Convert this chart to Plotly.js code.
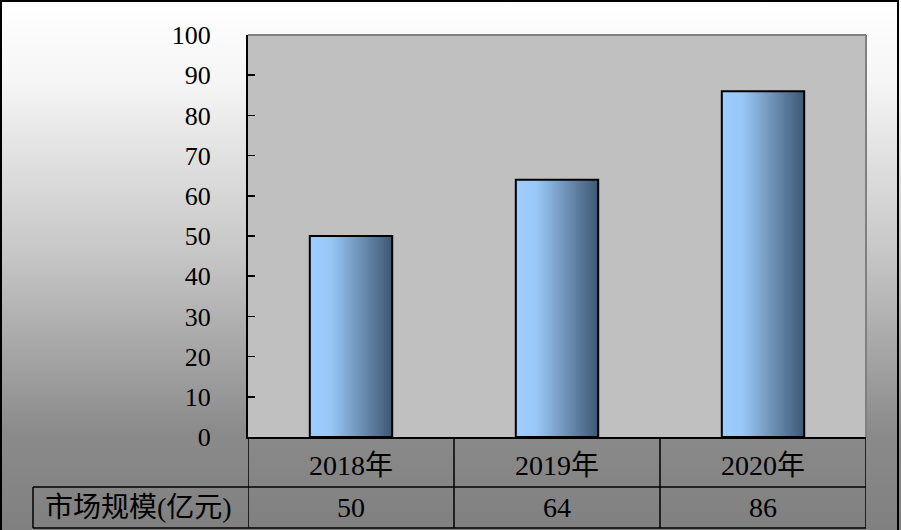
<!DOCTYPE html>
<html>
<head>
<meta charset="utf-8">
<script src="https://cdn.plot.ly/plotly-3.0.1.min.js"></script>
<style>
  html, body { margin: 0; padding: 0; }
  #wrap { position: relative; width: 901px; height: 530px;
    background: linear-gradient(to bottom, #ffffff 0%, #f6f6f6 15%, #c6c6c6 48%, #8a8a8a 82%, #808080 100%); }
  #chart { position: absolute; left: 0; top: 0; width: 901px; height: 530px; }
  #frame { position: absolute; left: 0; top: 0; width: 899px; height: 530px;
    border-left: 2px solid #000; border-top: 2px solid #000; border-right: 2px solid #000;
    box-sizing: border-box; pointer-events: none; }
</style>
</head>
<body>
<div id="wrap"><div id="chart"></div><div id="frame"></div></div>
<script>
const categories = ["2018年", "2019年", "2020年"];
const values = [50, 64, 86];
const seriesName = "市场规模(亿元)";
const yTicks = [0, 10, 20, 30, 40, 50, 60, 70, 80, 90, 100];

const serif = '"Liberation Serif", "Times New Roman", "Noto Sans CJK SC", serif';

const trace = {
  type: "bar",
  x: categories,
  y: values,
  name: seriesName,
  marker: { color: "#99ccff", line: { color: "#000000", width: 2 } },
  hoverinfo: "none"
};

const shapes = [];
shapes.push({ type: "line", xref: "paper", yref: "paper", x0: 0, x1: 1, y0: 1, y1: 1, line: { color: "#808080", width: 2 } });
shapes.push({ type: "line", xref: "paper", yref: "paper", x0: 1, x1: 1, y0: 0, y1: 1, line: { color: "#808080", width: 2 } });
for (let i = 0; i <= categories.length; i++) {
  shapes.push({ type: "line", xref: "x", yref: "paper", ysizemode: "pixel", yanchor: 0,
    x0: i - 0.5, x1: i - 0.5, y0: 0, y1: -91, line: { color: "#000", width: 1.5 } });
}
shapes.push({ type: "line", xref: "paper", yref: "paper", xsizemode: "pixel", xanchor: 0, ysizemode: "pixel", yanchor: 0,
  x0: -215, x1: 618, y0: -50, y1: -50, line: { color: "#000", width: 1.5 } });
shapes.push({ type: "line", xref: "paper", yref: "paper", xsizemode: "pixel", xanchor: 0, ysizemode: "pixel", yanchor: 0,
  x0: -215, x1: 618, y0: -91, y1: -91, line: { color: "#000", width: 1.5 } });
shapes.push({ type: "line", xref: "paper", yref: "paper", xsizemode: "pixel", xanchor: 0, ysizemode: "pixel", yanchor: 0,
  x0: -215, x1: -215, y0: -50, y1: -91, line: { color: "#000", width: 1.5 } });

const annotations = [];
values.forEach((v, i) => {
  annotations.push({ xref: "x", yref: "paper", x: categories[i], y: 0, yshift: -70,
    yanchor: "middle", xanchor: "center", showarrow: false, text: String(v),
    font: { family: serif, size: 28, color: "#000" } });
});
annotations.push({ xref: "paper", yref: "paper", x: 0, xshift: -110, y: 0, yshift: -70,
  yanchor: "middle", xanchor: "center", showarrow: false, text: seriesName,
  font: { family: serif, size: 28, color: "#000" } });

const layout = {
  width: 901, height: 530,
  margin: { l: 248, r: 35, t: 35, b: 93, pad: 0 },
  paper_bgcolor: "rgba(0,0,0,0)",
  plot_bgcolor: "#c0c0c0",
  showlegend: false,
  bargap: 0.6,
  xaxis: {
    type: "category",
    showgrid: false, zeroline: false,
    showline: true, linecolor: "#000", linewidth: 2,
    ticks: "", ticklabelstandoff: 2,
    tickfont: { family: serif, size: 28, color: "#000" },
    range: [-0.5, 2.5]
  },
  yaxis: {
    range: [0, 100], tickvals: yTicks,
    showgrid: false, zeroline: false,
    showline: true, linecolor: "#000", linewidth: 2,
    ticks: "inside", ticklen: 7, tickcolor: "#000", tickwidth: 1.5,
    ticklabelstandoff: 30,
    tickfont: { family: serif, size: 26, color: "#000" }
  },
  shapes: shapes,
  annotations: annotations
};

Plotly.newPlot("chart", [trace], layout, { displayModeBar: false, staticPlot: true }).then(gd => {
  const svg = gd.querySelector("svg.main-svg");
  const ns = "http://www.w3.org/2000/svg";
  let defs = svg.querySelector("defs");
  if (!defs) { defs = document.createElementNS(ns, "defs"); svg.insertBefore(defs, svg.firstChild); }
  const grad = document.createElementNS(ns, "linearGradient");
  grad.setAttribute("id", "barGrad");
  grad.setAttribute("x1", "0"); grad.setAttribute("y1", "0");
  grad.setAttribute("x2", "1"); grad.setAttribute("y2", "0");
  [["0", "#9ccdff"], ["0.25", "#98c8f8"], ["0.6", "#7093b8"], ["1", "#3e5874"]].forEach(s => {
    const st = document.createElementNS(ns, "stop");
    st.setAttribute("offset", s[0]); st.setAttribute("stop-color", s[1]);
    grad.appendChild(st);
  });
  defs.appendChild(grad);
  gd.querySelectorAll(".bars .point path").forEach(p => { p.style.fill = "url(#barGrad)"; });
});
</script>
</body>
</html>
